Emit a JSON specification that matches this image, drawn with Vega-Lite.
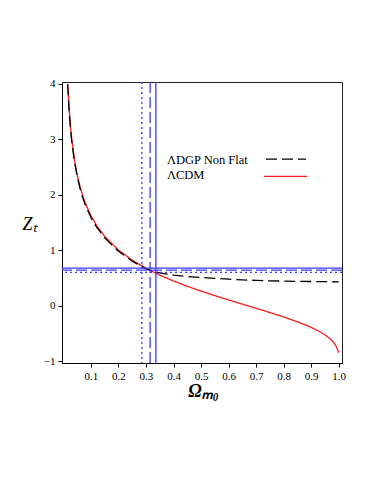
{
  "$schema": "https://vega.github.io/schema/vega-lite/v6.json",
  "autosize": "none",
  "width": 280,
  "height": 281,
  "padding": {"left": 62, "top": 82, "right": 32, "bottom": 121},
  "background": "white",
  "config": {
    "font": "Liberation Serif",
    "view": {"stroke": "#222", "strokeWidth": 1},
    "axis": {
      "domainColor": "#000",
      "tickColor": "#000",
      "tickSize": 4,
      "labelPadding": 3,
      "labelFont": "Liberation Serif",
      "labelFontSize": 11,
      "labelColor": "#000",
      "labelOverlap": false,
      "labelFlush": false,
      "grid": false
    },
    "text": {"font": "Liberation Serif"}
  },
  "datasets": {
    "curves": [
      {"omega": 0.0158, "z": 3.99, "model": "ΛCDM"},
      {"omega": 0.02, "z": 3.61, "model": "ΛCDM"},
      {"omega": 0.025, "z": 3.273, "model": "ΛCDM"},
      {"omega": 0.03, "z": 3.014, "model": "ΛCDM"},
      {"omega": 0.04, "z": 2.634, "model": "ΛCDM"},
      {"omega": 0.05, "z": 2.362, "model": "ΛCDM"},
      {"omega": 0.06, "z": 2.153, "model": "ΛCDM"},
      {"omega": 0.07, "z": 1.984, "model": "ΛCDM"},
      {"omega": 0.08, "z": 1.844, "model": "ΛCDM"},
      {"omega": 0.1, "z": 1.621, "model": "ΛCDM"},
      {"omega": 0.12, "z": 1.448, "model": "ΛCDM"},
      {"omega": 0.15, "z": 1.246, "model": "ΛCDM"},
      {"omega": 0.2, "z": 1.0, "model": "ΛCDM"},
      {"omega": 0.25, "z": 0.817, "model": "ΛCDM"},
      {"omega": 0.3, "z": 0.671, "model": "ΛCDM"},
      {"omega": 0.35, "z": 0.549, "model": "ΛCDM"},
      {"omega": 0.4, "z": 0.442, "model": "ΛCDM"},
      {"omega": 0.45, "z": 0.347, "model": "ΛCDM"},
      {"omega": 0.5, "z": 0.26, "model": "ΛCDM"},
      {"omega": 0.55, "z": 0.178, "model": "ΛCDM"},
      {"omega": 0.6, "z": 0.101, "model": "ΛCDM"},
      {"omega": 0.65, "z": 0.025, "model": "ΛCDM"},
      {"omega": 0.7, "z": -0.05, "model": "ΛCDM"},
      {"omega": 0.75, "z": -0.126, "model": "ΛCDM"},
      {"omega": 0.8, "z": -0.206, "model": "ΛCDM"},
      {"omega": 0.85, "z": -0.293, "model": "ΛCDM"},
      {"omega": 0.9, "z": -0.394, "model": "ΛCDM"},
      {"omega": 0.93, "z": -0.468, "model": "ΛCDM"},
      {"omega": 0.95, "z": -0.528, "model": "ΛCDM"},
      {"omega": 0.97, "z": -0.604, "model": "ΛCDM"},
      {"omega": 0.98, "z": -0.656, "model": "ΛCDM"},
      {"omega": 0.99, "z": -0.728, "model": "ΛCDM"},
      {"omega": 0.995, "z": -0.784, "model": "ΛCDM"},
      {"omega": 1.0, "z": -0.85, "model": "ΛCDM"},
      {"omega": 0.0158, "z": 3.99, "model": "ΛDGP Non Flat"},
      {"omega": 0.02, "z": 3.58, "model": "ΛDGP Non Flat"},
      {"omega": 0.025, "z": 3.24, "model": "ΛDGP Non Flat"},
      {"omega": 0.03, "z": 2.98, "model": "ΛDGP Non Flat"},
      {"omega": 0.04, "z": 2.6, "model": "ΛDGP Non Flat"},
      {"omega": 0.05, "z": 2.33, "model": "ΛDGP Non Flat"},
      {"omega": 0.06, "z": 2.12, "model": "ΛDGP Non Flat"},
      {"omega": 0.07, "z": 1.95, "model": "ΛDGP Non Flat"},
      {"omega": 0.08, "z": 1.81, "model": "ΛDGP Non Flat"},
      {"omega": 0.1, "z": 1.59, "model": "ΛDGP Non Flat"},
      {"omega": 0.12, "z": 1.42, "model": "ΛDGP Non Flat"},
      {"omega": 0.15, "z": 1.22, "model": "ΛDGP Non Flat"},
      {"omega": 0.2, "z": 0.98, "model": "ΛDGP Non Flat"},
      {"omega": 0.25, "z": 0.8, "model": "ΛDGP Non Flat"},
      {"omega": 0.3, "z": 0.66, "model": "ΛDGP Non Flat"},
      {"omega": 0.315, "z": 0.635, "model": "ΛDGP Non Flat"},
      {"omega": 0.35, "z": 0.59, "model": "ΛDGP Non Flat"},
      {"omega": 0.4, "z": 0.548, "model": "ΛDGP Non Flat"},
      {"omega": 0.45, "z": 0.522, "model": "ΛDGP Non Flat"},
      {"omega": 0.5, "z": 0.505, "model": "ΛDGP Non Flat"},
      {"omega": 0.55, "z": 0.49, "model": "ΛDGP Non Flat"},
      {"omega": 0.6, "z": 0.476, "model": "ΛDGP Non Flat"},
      {"omega": 0.65, "z": 0.463, "model": "ΛDGP Non Flat"},
      {"omega": 0.7, "z": 0.453, "model": "ΛDGP Non Flat"},
      {"omega": 0.75, "z": 0.446, "model": "ΛDGP Non Flat"},
      {"omega": 0.8, "z": 0.44, "model": "ΛDGP Non Flat"},
      {"omega": 0.85, "z": 0.436, "model": "ΛDGP Non Flat"},
      {"omega": 0.9, "z": 0.433, "model": "ΛDGP Non Flat"},
      {"omega": 0.95, "z": 0.43, "model": "ΛDGP Non Flat"},
      {"omega": 1.0, "z": 0.427, "model": "ΛDGP Non Flat"}
    ],
    "vlines": [
      {"omega": 0.285, "style": "dotted"},
      {"omega": 0.315, "style": "dashed"},
      {"omega": 0.336, "style": "solid"}
    ],
    "hlines": [
      {"z": 0.675, "style": "solid"},
      {"z": 0.637, "style": "dashed"},
      {"z": 0.598, "style": "dotted"}
    ],
    "legend": [
      {"model": "ΛDGP Non Flat", "tx": 0.376, "ty": 2.63, "x1": 0.736, "x2": 0.881, "sy": 2.64},
      {"model": "ΛCDM", "tx": 0.376, "ty": 2.36, "x1": 0.729, "x2": 0.885, "sy": 2.33}
    ]
  },
  "layer": [
    {
      "data": {"name": "curves"},
      "mark": {"type": "line", "strokeWidth": 1.3, "clip": true},
      "encoding": {
        "x": {
          "field": "omega", "type": "quantitative",
          "scale": {"domain": [-0.005, 1.012], "nice": false, "zero": false},
          "axis": {"values": [0.1, 0.2, 0.3, 0.4, 0.5, 0.6, 0.7, 0.8, 0.9, 1.0], "format": ".1f", "labelFont": "Liberation Serif", "labelFontSize": 11, "labelOverlap": false, "labelFlush": false, "title": "Ωₘ₀", "titleFont": "Liberation Serif", "titleFontStyle": "italic", "titleFontWeight": "bold", "titleFontSize": 18, "titleColor": "#000", "titleX": 141, "titleY": 28, "titleAlign": "center", "titleBaseline": "middle"}
        },
        "y": {
          "field": "z", "type": "quantitative",
          "scale": {"domain": [-1.036, 4.03], "nice": false, "zero": false},
          "axis": {"values": [-1, 0, 1, 2, 3, 4], "format": "d", "labelFont": "Liberation Serif", "labelFontSize": 11, "labelOverlap": false, "labelFlush": false, "title": "Zₜ", "titleAngle": 0, "titleFont": "Liberation Serif", "titleFontStyle": "italic", "titleFontWeight": "normal", "titleFontSize": 18, "titleColor": "#000", "titleX": -33, "titleY": 142, "titleAlign": "center", "titleBaseline": "middle"}
        },
        "detail": {"field": "model", "type": "nominal"},
        "color": {"field": "model", "type": "nominal", "scale": {"domain": ["ΛDGP Non Flat", "ΛCDM", "solid", "dashed", "dotted"], "range": ["#000000", "#ff1a1a", "#3a3aff", "#3a3aff", "#3a3aff"]}, "legend": null},
        "strokeDash": {"field": "model", "type": "nominal", "scale": {"domain": ["ΛDGP Non Flat", "ΛCDM", "solid", "dashed", "dotted"], "range": [[11, 5], [1, 0], [1, 0], [11, 4], [2, 3]]}, "legend": null}
      }
    },
    {
      "data": {"name": "vlines"},
      "mark": {"type": "rule", "strokeWidth": 1.3},
      "encoding": {
        "x": {"field": "omega", "type": "quantitative",
          "axis": {"values": [0.1, 0.2, 0.3, 0.4, 0.5, 0.6, 0.7, 0.8, 0.9, 1.0], "format": ".1f", "labelFont": "Liberation Serif", "labelFontSize": 11, "labelOverlap": false, "labelFlush": false, "title": "Ωₘ₀", "titleFont": "Liberation Serif", "titleFontStyle": "italic", "titleFontWeight": "bold", "titleFontSize": 18, "titleColor": "#000", "titleX": 141, "titleY": 28, "titleAlign": "center", "titleBaseline": "middle"}},
        "color": {"field": "style", "type": "nominal", "legend": null},
        "strokeDash": {"field": "style", "type": "nominal", "legend": null}
      }
    },
    {
      "data": {"name": "hlines"},
      "mark": {"type": "rule", "strokeWidth": 1.3},
      "encoding": {
        "y": {"field": "z", "type": "quantitative",
          "axis": {"values": [-1, 0, 1, 2, 3, 4], "format": "d", "labelFont": "Liberation Serif", "labelFontSize": 11, "labelOverlap": false, "labelFlush": false, "title": "Zₜ", "titleAngle": 0, "titleFont": "Liberation Serif", "titleFontStyle": "italic", "titleFontWeight": "normal", "titleFontSize": 18, "titleColor": "#000", "titleX": -33, "titleY": 142, "titleAlign": "center", "titleBaseline": "middle"}},
        "color": {"field": "style", "type": "nominal", "legend": null},
        "strokeDash": {"field": "style", "type": "nominal", "legend": null}
      }
    },
    {
      "data": {"name": "legend"},
      "mark": {"type": "text", "align": "left", "baseline": "middle", "font": "Liberation Serif", "fontSize": 12.5, "fill": "#000"},
      "encoding": {
        "x": {"field": "tx", "type": "quantitative",
          "axis": {"values": [0.1, 0.2, 0.3, 0.4, 0.5, 0.6, 0.7, 0.8, 0.9, 1.0], "format": ".1f", "labelFont": "Liberation Serif", "labelFontSize": 11, "labelOverlap": false, "labelFlush": false, "title": "Ωₘ₀", "titleFont": "Liberation Serif", "titleFontStyle": "italic", "titleFontWeight": "bold", "titleFontSize": 18, "titleColor": "#000", "titleX": 141, "titleY": 28, "titleAlign": "center", "titleBaseline": "middle"}},
        "y": {"field": "ty", "type": "quantitative",
          "axis": {"values": [-1, 0, 1, 2, 3, 4], "format": "d", "labelFont": "Liberation Serif", "labelFontSize": 11, "labelOverlap": false, "labelFlush": false, "title": "Zₜ", "titleAngle": 0, "titleFont": "Liberation Serif", "titleFontStyle": "italic", "titleFontWeight": "normal", "titleFontSize": 18, "titleColor": "#000", "titleX": -33, "titleY": 142, "titleAlign": "center", "titleBaseline": "middle"}},
        "text": {"field": "model"}
      }
    },
    {
      "data": {"name": "legend"},
      "mark": {"type": "rule", "strokeWidth": 1.3},
      "encoding": {
        "x": {"field": "x1", "type": "quantitative",
          "axis": {"values": [0.1, 0.2, 0.3, 0.4, 0.5, 0.6, 0.7, 0.8, 0.9, 1.0], "format": ".1f", "labelFont": "Liberation Serif", "labelFontSize": 11, "labelOverlap": false, "labelFlush": false, "title": "Ωₘ₀", "titleFont": "Liberation Serif", "titleFontStyle": "italic", "titleFontWeight": "bold", "titleFontSize": 18, "titleColor": "#000", "titleX": 141, "titleY": 28, "titleAlign": "center", "titleBaseline": "middle"}},
        "x2": {"field": "x2"},
        "y": {"field": "sy", "type": "quantitative",
          "axis": {"values": [-1, 0, 1, 2, 3, 4], "format": "d", "labelFont": "Liberation Serif", "labelFontSize": 11, "labelOverlap": false, "labelFlush": false, "title": "Zₜ", "titleAngle": 0, "titleFont": "Liberation Serif", "titleFontStyle": "italic", "titleFontWeight": "normal", "titleFontSize": 18, "titleColor": "#000", "titleX": -33, "titleY": 142, "titleAlign": "center", "titleBaseline": "middle"}},
        "color": {"field": "model", "type": "nominal", "legend": null},
        "strokeDash": {"field": "model", "type": "nominal", "legend": null}
      }
    }
  ]
}
